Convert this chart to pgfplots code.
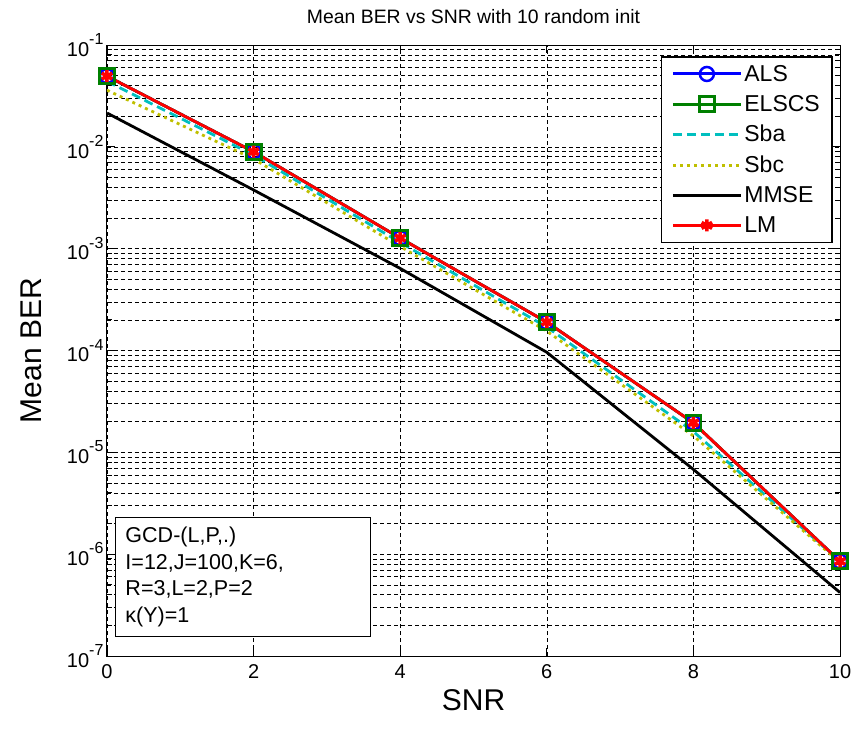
\documentclass[border=0pt]{standalone}
\usepackage{fontspec}
\setmainfont{Liberation Sans}
\usepackage{pgfplots}
\pgfplotsset{compat=1.18}

\definecolor{mblue}{rgb}{0,0,1}
\definecolor{mgreen}{rgb}{0,0.5,0}
\definecolor{mcyan}{rgb}{0,0.75,0.75}
\definecolor{myellow}{rgb}{0.75,0.75,0}
\newcommand{\tl}[1]{10\raisebox{1.1ex}{\fontsize{16}{16}\selectfont #1}}

\begin{document}
\begin{tikzpicture}
\begin{axis}[
  scale only axis, width=733pt, height=611pt,
  ymode=log, xmin=0, xmax=10, ymin=1e-7, ymax=1e-1,
  xtick={0,2,4,6,8,10},
  ytick={1e-7,1e-6,1e-5,1e-4,1e-3,1e-2,1e-1},
  yticklabels={\tl{-7},\tl{-6},\tl{-5},\tl{-4},\tl{-3},\tl{-2},\tl{-1}},
  tick label style={font=\fontsize{20}{20}\selectfont},
  xticklabel style={yshift=-5pt},
  /pgf/number format/assume math mode=true,
  tick align=inside, major tick length=8pt, minor tick length=5pt,
  every tick/.style={black, line width=0.8pt},
  axis line style={line width=1pt},
  xmajorgrids, ymajorgrids, yminorgrids,
  major grid style={black, dash pattern=on 4pt off 3pt, line width=0.6pt},
  minor grid style={black, dash pattern=on 4pt off 3pt, line width=0.6pt},
  title={Mean BER vs SNR with 10 random init},
  title style={font=\fontsize{19.4}{19.4}\selectfont, at={(axis description cs:0.5,1)}, anchor=south, yshift=12pt},
  xlabel={SNR}, ylabel={Mean BER},
  xlabel style={font=\fontsize{30}{30}\selectfont, at={(axis description cs:0.5,-0.072)}, anchor=center},
  ylabel style={font=\fontsize{30}{30}\selectfont, at={(axis description cs:-0.1037,0.5)}, anchor=center},
  legend style={name=leg, font=\fontsize{23}{25}\selectfont, at={(1,1)}, anchor=north east, xshift=-8pt, yshift=-12pt,
    draw=none, fill=white, row sep=8.5pt, inner xsep=10pt, inner ysep=6pt},
  legend cell align=left,
  legend image code/.code={
    \draw[#1, line width=3pt] (0pt,0pt) -- (68pt,0pt);
    \draw[#1] plot coordinates {(34pt,0pt)};},
]
\addplot[mblue, line width=2.8pt, mark=o, mark size=7pt, mark options={solid, line width=2.5pt}] coordinates {(0,4.95e-2)(2,8.95e-3)(4,1.27e-3)(6,1.9e-4)(8,1.95e-5)(10,8.5e-7)};
\addlegendentry{ALS}
\addplot[mgreen, line width=2.8pt, mark=square, mark size=7.5pt, mark options={solid, line width=2.8pt}] coordinates {(0,4.95e-2)(2,8.95e-3)(4,1.27e-3)(6,1.9e-4)(8,1.95e-5)(10,8.5e-7)};
\addlegendentry{ELSCS}
\addplot[mcyan, line width=2.8pt, dash pattern=on 9pt off 5pt] coordinates {(0,4.4e-2)(2,8.3e-3)(4,1.15e-3)(6,1.7e-4)(8,1.6e-5)(10,8.5e-7)};
\addlegendentry{Sba}
\addplot[myellow, line width=2.8pt, dash pattern=on 3pt off 4pt] coordinates {(0,3.6e-2)(2,7.6e-3)(4,1.05e-3)(6,1.55e-4)(8,1.45e-5)(10,8.3e-7)};
\addlegendentry{Sbc}
\addplot[black, line width=2.8pt] coordinates {(0,2.15e-2)(2,3.77e-3)(4,6.4e-4)(6,9.6e-5)(8,6.8e-6)(10,4.2e-7)};
\addlegendentry{MMSE}
\addplot[red, line width=2.8pt, mark=asterisk, mark size=6pt, mark options={solid, line width=3.5pt}] coordinates {(0,4.95e-2)(2,8.95e-3)(4,1.27e-3)(6,1.9e-4)(8,1.95e-5)(10,8.5e-7)};
\addlegendentry{LM}
\node[draw=black, line width=1pt, fill=white, anchor=south west, minimum width=255pt, minimum height=119pt,
  text width=235pt, align=left, inner xsep=10pt, font=\fontsize{21.5}{26.7}\selectfont]
  at ([xshift=8pt, yshift=19pt]rel axis cs:0,0)
  {GCD-(L,P,.)\\I=12,J=100,K=6,\\R=3,L=2,P=2\\κ(Y)=1};
\end{axis}
\draw[line width=1.2pt] (leg.south west) rectangle (leg.north east);
\useasboundingbox (-107pt,-72pt) rectangle (754pt,656pt);
\end{tikzpicture}
\end{document}
